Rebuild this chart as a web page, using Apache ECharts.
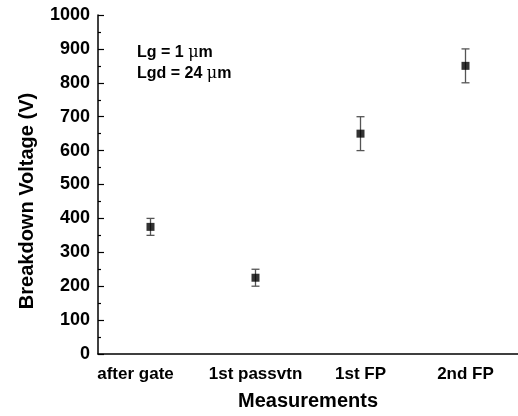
<!DOCTYPE html>
<html>
<head>
<meta charset="utf-8">
<script src="https://cdn.jsdelivr.net/npm/echarts@6/dist/echarts.min.js"></script>
<style>
  html, body { margin: 0; padding: 0; background: #fff; }
  #main { width: 518px; height: 416px; }
</style>
</head>
<body>
<div id="main"></div>
<script>
  // measurement steps
  const categories = ['after gate', '1st passvtn', '1st FP', '2nd FP'];
  // breakdown voltage (V)
  const voltage = [375, 225, 650, 850];
  // error bar half-width (V)
  const errors = [25, 25, 50, 50];
  const yTicks = [0, 1000, 100];

  const font = 'Liberation Sans, Arial, Helvetica, sans-serif';

  let chart = echarts.init(document.getElementById('main'));

  let errData = categories.map(function (c, i) {
    return [i, voltage[i] - errors[i], voltage[i] + errors[i]];
  });

  // first label sits a little left of its tick in the original
  let xLabels = categories.map(function (c, i) {
    return i === 0 ? {value: c, textStyle: {padding: [0, 30, 0, 0]}} : c;
  });

  let option = {
    animation: false,
    backgroundColor: '#fff',
    grid: {left: 98, top: 15, width: 424, bottom: 60},
    graphic: [
      {
        type: 'text',
        left: 137,
        top: 45,
        style: {
          text: '{b|Lg = 1 }{m|μ}{b|m}\n{b|Lgd = 24 }{m|μ}{b|m}',
          rich: {
            b: {fontFamily: font, fontWeight: 'bold', fontSize: 16, lineHeight: 21, fill: '#000'},
            m: {fontFamily: 'DejaVu Serif, serif', fontSize: 16, lineHeight: 21, fill: '#000'}
          }
        }
      },
      {
        type: 'text',
        x: 27,
        y: 201,
        rotation: Math.PI / 2,
        style: {
          text: 'Breakdown Voltage (V)',
          fontFamily: font, fontWeight: 'bold', fontSize: 20, fill: '#000',
          align: 'center', verticalAlign: 'middle'
        }
      }
    ],
    xAxis: [
      {
        type: 'category',
        data: xLabels,
        boundaryGap: true,
        name: 'Measurements',
        nameLocation: 'middle',
        nameGap: 37,
        nameTextStyle: {fontFamily: font, fontWeight: 'bold', fontSize: 20, color: '#000'},
        axisLine: {lineStyle: {color: '#000', width: 1.5}},
        axisTick: {alignWithLabel: true, inside: true, length: 6, lineStyle: {color: '#000', width: 1.2}},
        axisLabel: {interval: 0, fontFamily: font, fontWeight: 'bold', fontSize: 17, color: '#000', margin: 12},
        splitLine: {show: false}
      },
      {
        type: 'category',
        data: categories,
        boundaryGap: true,
        position: 'bottom',
        axisLine: {show: false},
        axisTick: {interval: 0, inside: true, length: 3, lineStyle: {color: '#000', width: 1.2}},
        axisLabel: {show: false},
        splitLine: {show: false}
      }
    ],
    yAxis: {
      type: 'value',
      min: yTicks[0],
      max: yTicks[1],
      interval: yTicks[2],
      axisLine: {show: true, lineStyle: {color: '#000', width: 1.5}},
      axisTick: {show: true, inside: true, length: 6, lineStyle: {color: '#000', width: 1.2}},
      minorTick: {show: true, splitNumber: 2, length: 3, lineStyle: {color: '#000', width: 1.2}},
      axisLabel: {
        fontFamily: font, fontWeight: 'bold', fontSize: 18, color: '#000', margin: 8,
        formatter: function (v) { return String(v); }
      },
      splitLine: {show: false}
    },
    series: [
      {
        type: 'custom',
        data: errData,
        z: 2,
        renderItem: function (params, api) {
          let lo = api.coord([api.value(0), api.value(1)]);
          let hi = api.coord([api.value(0), api.value(2)]);
          let hw = 4;
          let st = {stroke: '#555', lineWidth: 1.3};
          return {
            type: 'group',
            children: [
              {type: 'line', shape: {x1: lo[0], y1: lo[1], x2: hi[0], y2: hi[1]}, style: st},
              {type: 'line', shape: {x1: lo[0] - hw, y1: lo[1], x2: lo[0] + hw, y2: lo[1]}, style: st},
              {type: 'line', shape: {x1: hi[0] - hw, y1: hi[1], x2: hi[0] + hw, y2: hi[1]}, style: st}
            ]
          };
        }
      },
      {
        type: 'scatter',
        data: voltage,
        symbol: 'rect',
        symbolSize: 8,
        z: 3,
        itemStyle: {color: '#000'}
      }
    ]
  };

  chart.setOption(option);
</script>
</body>
</html>
